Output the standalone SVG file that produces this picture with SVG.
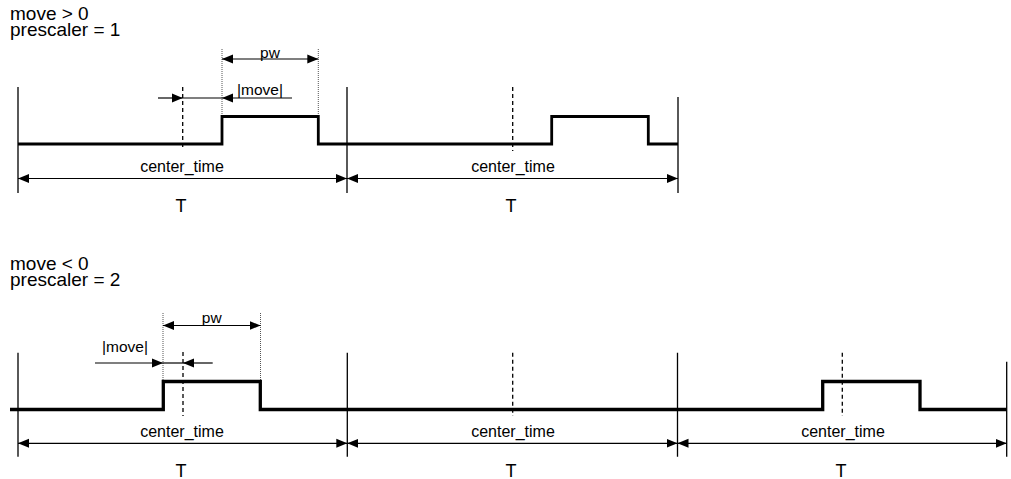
<svg xmlns="http://www.w3.org/2000/svg" width="1011" height="479" viewBox="0 0 1011 479">
<defs>
<marker id="ah" markerUnits="userSpaceOnUse" markerWidth="12" markerHeight="10" refX="11" refY="4.5" orient="auto-start-reverse" viewBox="0 0 12 9">
<path d="M0,0 L11,4.5 L0,9 z" fill="#000"/>
</marker>
<style>
text{font-family:"Liberation Sans",Arial,sans-serif;fill:#000}
.title{font-size:19px}
.lbl{font-size:16px;text-anchor:middle}
.small{font-size:15.5px;text-anchor:middle}
.big{font-size:18px;text-anchor:middle}
.per{stroke:#000;stroke-width:1.3;fill:none}
.ctr{stroke:#000;stroke-width:1.3;stroke-dasharray:4,3;fill:none}
.dot{stroke:#555;stroke-width:1;stroke-dasharray:1,1;fill:none}
.sig{stroke:#000;stroke-width:2.8;fill:none}
.sig2{stroke:#000;stroke-width:3.3;fill:none}
.dim{stroke:#000;stroke-width:1.2;fill:none}
.both{marker-start:url(#ah);marker-end:url(#ah)}
.end{marker-end:url(#ah)}
</style>
</defs>
<rect width="1011" height="479" fill="#fff"/>

<g id="top">
<text class="title" x="10" y="20">move &gt; 0</text>
<text class="title" x="10" y="35.5">prescaler = 1</text>
<g id="top-grid">
<path class="per" d="M18,87 V193 M347,87 V193 M678,97 V193"/>
<path class="ctr" d="M182.7,87 V148 M512.7,87 V151"/>
<path class="dot" d="M222,49 V116 M318.3,49 V116"/>
</g>
<path id="top-signal" class="sig" d="M18,144 H222 V116.5 H318.3 V144 H551.7 V116.5 H648.3 V144 H678"/>
<g id="top-dims">
<path class="dim both" d="M222,59 H318.3"/>
<path class="dim end" d="M158,98 H182.7"/>
<path class="dim" d="M182.7,98 H222"/>
<path class="dim end" d="M292,98 H222"/>
<path class="dim both" d="M18,178.5 H347"/>
<path class="dim both" d="M347,178.5 H678"/>
</g>
<text class="small" x="270" y="58">pw</text>
<text class="small" x="260" y="95">|move|</text>
<text class="lbl" x="182" y="171.5">center_time</text>
<text class="lbl" x="513" y="171.5">center_time</text>
<text class="big" x="181" y="212">T</text>
<text class="big" x="511" y="212">T</text>
</g>

<g id="bottom">
<text class="title" x="10" y="270">move &lt; 0</text>
<text class="title" x="10" y="285.5">prescaler = 2</text>
<g id="bottom-grid">
<path class="per" d="M18,352.7 V456.7 M347.3,352.7 V456.7 M677.5,352.7 V456.7 M1006.7,361.7 V456.7"/>
<path class="ctr" d="M183,352 V416 M512.7,352.7 V416 M842.3,352.7 V416"/>
<path class="dot" d="M163,313 V381.5 M260.5,313 V381.5"/>
</g>
<path id="bottom-signal" class="sig2" d="M10,409.5 H163.3 V381.5 H260.3 V409.5 H822.7 V381.5 H920 V409.5 H1006.7"/>
<g id="bottom-dims">
<path class="dim both" d="M163,325.5 H260.5"/>
<path class="dim end" d="M95,363 H163"/>
<path class="dim" d="M163,363 H183"/>
<path class="dim end" d="M212.7,363 H183"/>
<path class="dim both" d="M18,443.3 H347.3"/>
<path class="dim both" d="M347.3,443.3 H677.5"/>
<path class="dim both" d="M677.5,443.3 H1006.7"/>
</g>
<text class="small" x="211.7" y="323">pw</text>
<text class="small" x="125" y="352">|move|</text>
<text class="lbl" x="182" y="436.5">center_time</text>
<text class="lbl" x="513" y="436.5">center_time</text>
<text class="lbl" x="843" y="436.5">center_time</text>
<text class="big" x="181" y="477">T</text>
<text class="big" x="511" y="477">T</text>
<text class="big" x="841" y="477">T</text>
</g>
</svg>
